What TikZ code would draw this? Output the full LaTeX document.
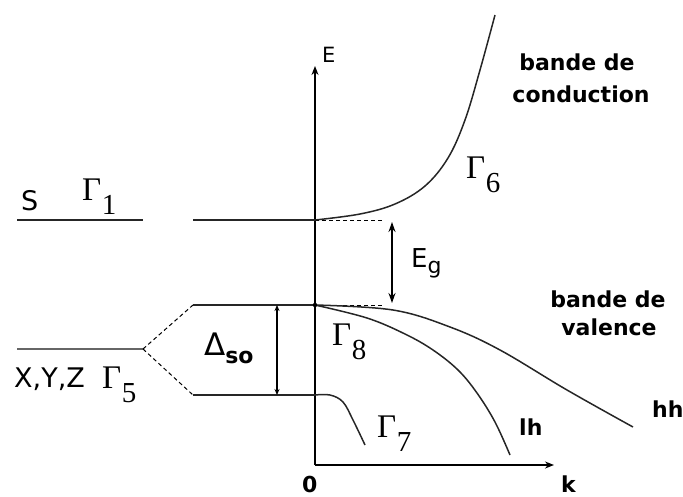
\documentclass[tikz,border=0pt]{standalone}
\usepackage{fontspec}
\setmainfont{DejaVu Sans}
\newfontfamily\gserif{Liberation Serif}
\usetikzlibrary{arrows.meta}
\newcommand{\Gam}[1]{{\gserif\fontsize{33}{33}\selectfont Γ\kern0.5pt\raisebox{-14pt}{\fontsize{29}{29}\selectfont #1}}}
\begin{document}
\begin{tikzpicture}[x=1pt,y=-1pt,
  axis/.style={line width=1.4pt,-{Stealth[length=9pt,width=7pt]}},
  level/.style={line width=1.2pt,black!85},
  curve/.style={line width=1.5pt,black!85},
  dashline/.style={line width=1pt,dash pattern=on 4pt off 3pt},
  gaparrow/.style={line width=1.5pt,{Stealth[length=10pt,width=7pt]}-{Stealth[length=10pt,width=7pt]}},
  soarrow/.style={line width=1.2pt,{Stealth[length=6pt,width=5pt]}-{Stealth[length=6pt,width=5pt]}},
  lbl/.style={inner sep=0pt,anchor=base west},
  bold/.style={inner sep=0pt,anchor=base,font=\bfseries\fontsize{22}{22}\selectfont}]
\useasboundingbox (0,0) rectangle (683,496);
% axes
\coordinate (O) at (315,465);
\coordinate (Etop) at (315,66);
\coordinate (Kend) at (554,465);
\draw[axis] (O) -- (Etop);
\draw[axis] (O) -- (Kend);
\node[lbl,font=\fontsize{21}{21}\selectfont] (Elab) at (322,62) {E};
\node[lbl,font=\bfseries\fontsize{22}{22}\selectfont] (zero) at (302,492) {0};
\node[lbl,font=\bfseries\fontsize{22}{22}\selectfont] (klab) at (561,492) {k};
% key points
\coordinate (CBM) at (315,220);
\coordinate (VBM) at (315,305);
\coordinate (SO) at (315,395);
% s level
\coordinate (s1) at (17,220);
\coordinate (s2) at (143,220);
\coordinate (s3) at (193,220);
\draw[level] (s1) -- (s2);
\draw[level] (s3) -- (CBM);
% p level and splitting
\coordinate (p1) at (17,349);
\coordinate (p2) at (143,349);
\coordinate (VBl) at (193,305);
\coordinate (SOl) at (193,395);
\draw[level,black!60] (p1) -- (p2);
\draw[dashline] (p2) -- (VBl);
\draw[dashline] (p2) -- (SOl);
\draw[level] (VBl) -- (VBM);
\draw[level] (SOl) -- (SO);
% dashed references
\coordinate (cd) at (382,220);
\coordinate (vd) at (382,305);
\draw[dashline] (CBM) -- (cd);
\draw[dashline] (VBM) -- (vd);
% conduction band
\draw[curve] plot[smooth,tension=0.6] coordinates {(CBM) (360,214) (395,204) (425,186) (448,158) (465,120) (480,70) (495,15)};
% valence bands
\draw[curve] plot[smooth,tension=0.6] coordinates {(VBM) (393,310) (450,327) (500,350) (567,390) (633,427)};
\draw[curve] plot[smooth,tension=0.6] coordinates {(VBM) (367,318) (405,334) (433,350) (458,370) (477,393) (495,422) (510,455)};
\draw[curve] plot[smooth,tension=0.6] coordinates {(SO) (330,395) (343,402) (353,420) (365,445)};
\fill (VBM) circle (2.2pt);
% arrows
\coordinate (eg1) at (392,222);
\coordinate (eg2) at (392,303);
\draw[gaparrow] (eg1) -- (eg2);
\coordinate (d1) at (277,305);
\coordinate (d2) at (277,395);
\draw[soarrow] (d1) -- (d2);
% labels
\node[lbl,font=\fontsize{26}{26}\selectfont] (Eg) at (411,267) {E\raisebox{-6pt}{\fontsize{22}{22}\selectfont g}};
\node[lbl] (Dso) at (204,355) {{\fontsize{31}{31}\selectfont Δ}{\raisebox{-8pt}{\bfseries\fontsize{22}{22}\selectfont so}}};
\node[lbl,font=\fontsize{27}{27}\selectfont] (S) at (21,210) {S};
\node[lbl,font=\fontsize{27}{27}\selectfont] (XYZ) at (14,387) {X,Y,Z};
\node[lbl] (G1) at (82,200) {\Gam{1}};
\node[lbl] (G5) at (102,388) {\Gam{5}};
\node[lbl] (G6) at (466,178) {\Gam{6}};
\node[lbl] (G8) at (332,345) {\Gam{8}};
\node[lbl] (G7) at (377,437) {\Gam{7}};
\node[lbl,font=\bfseries\fontsize{22}{22}\selectfont] (hh) at (652,417) {hh};
\node[lbl,font=\bfseries\fontsize{22}{22}\selectfont] (lh) at (519,435) {lh};
\node[bold] (bc1) at (577,70) {bande de};
\node[bold] (bc2) at (581,102) {conduction};
\node[bold] (bv1) at (608,307) {bande de};
\node[bold] (bv2) at (609,335) {valence};
\end{tikzpicture}
\end{document}
